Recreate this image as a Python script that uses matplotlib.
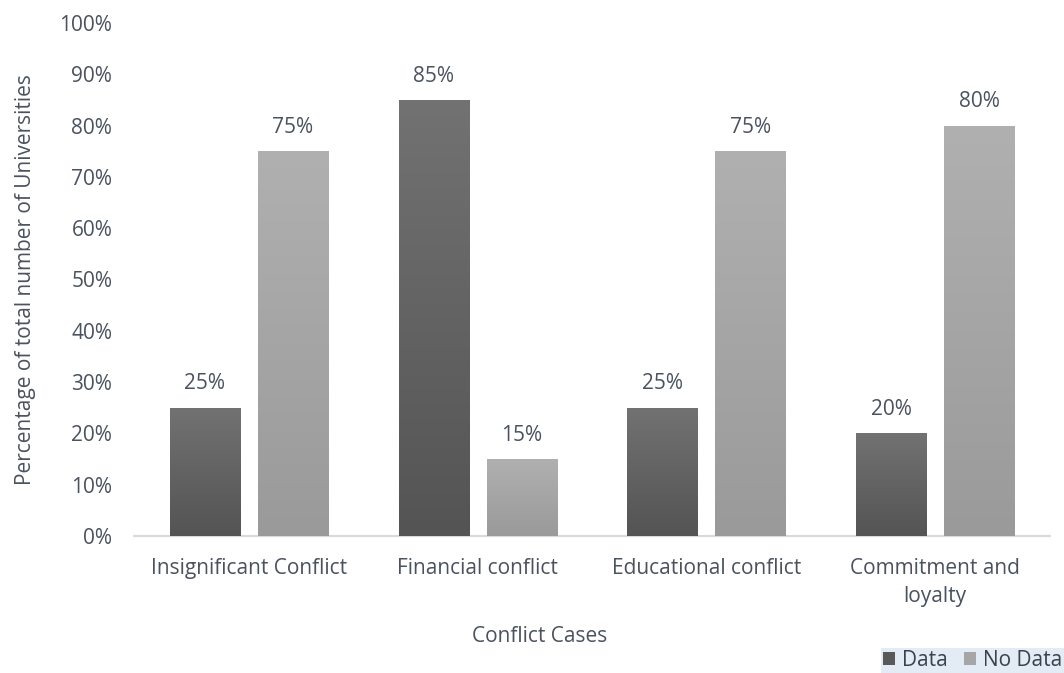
import numpy as np
import matplotlib.pyplot as plt
from matplotlib.colors import LinearSegmentedColormap
from matplotlib.patches import Patch

categories = ["Insignificant Conflict", "Financial conflict",
              "Educational conflict", "Commitment and\nloyalty"]
data_vals = [25, 85, 25, 20]
no_data_vals = [75, 15, 75, 80]
series_names = ["Data", "No Data"]

plt.rcParams['font.family'] = ['Open Sans', 'DejaVu Sans']
text_color = '#4a5260'
fs = 15

fig = plt.figure(figsize=(10.64, 6.73), dpi=100)
ax = fig.add_axes([0.1264, 0.2036, 0.86, 0.7622])

x = np.arange(len(categories))
width = 0.306
gap = 0.078
off = (width + gap) / 2

dark = LinearSegmentedColormap.from_list('dark', ['#545454', '#727272'])
light = LinearSegmentedColormap.from_list('light', ['#9a9a9a', '#b0b0b0'])
grad = np.linspace(0, 1, 256).reshape(-1, 1)

for vals, dx, cmap, base in [(data_vals, -off, dark, '#636363'),
                             (no_data_vals, off, light, '#a6a6a6')]:
    bars = ax.bar(x + dx, vals, width, color=base, edgecolor='none', zorder=2)
    for b, v in zip(bars, vals):
        x0 = b.get_x()
        im = ax.imshow(grad, cmap=cmap, origin='lower', aspect='auto',
                       extent=[x0, x0 + width, 0, v], zorder=3)
        im.set_clip_path(b)
        ax.text(b.get_x() + width / 2, v + 2.6, f"{v}%", ha='center', va='bottom',
                fontsize=fs, color=text_color)

ax.set_xlim(-0.5, len(categories) - 0.5)
ax.set_ylim(0, 100)
ax.set_yticks(np.arange(0, 101, 10))
ax.set_yticklabels([f"{t}%" for t in range(0, 101, 10)])
ax.set_xticks(x)
ax.set_xticklabels(categories, linespacing=1.45)
ax.tick_params(axis='both', length=0, labelsize=fs, labelcolor=text_color)
ax.tick_params(axis='x', pad=16)
ax.tick_params(axis='y', pad=16)
for s in ['top', 'right', 'left']:
    ax.spines[s].set_visible(False)
ax.spines['bottom'].set_color('#d9d9d9')
ax.spines['bottom'].set_linewidth(1.5)

ax.set_xlabel("Conflict Cases", fontsize=fs, color=text_color)
ax.xaxis.set_label_coords(0.443, -0.175)
ax.set_ylabel("Percentage of total number of Universities", fontsize=fs,
              color=text_color)
ax.yaxis.set_label_coords(-0.108, 0.5)

handles = [Patch(facecolor='#595959'), Patch(facecolor='#a6a6a6')]
leg = fig.legend(handles, series_names, loc='lower right',
                 bbox_to_anchor=(1.0, 0.0), ncol=2, frameon=True,
                 fontsize=fs, handlelength=0.6, handleheight=0.6,
                 handletextpad=0.3, columnspacing=0.8, borderpad=0.1,
                 fancybox=False, borderaxespad=0.0)
leg.get_frame().set_facecolor('#dce7f2')
leg.get_frame().set_edgecolor('none')
for t in leg.get_texts():
    t.set_color('#3a4250')

fig.savefig("out.png", dpi=100)
